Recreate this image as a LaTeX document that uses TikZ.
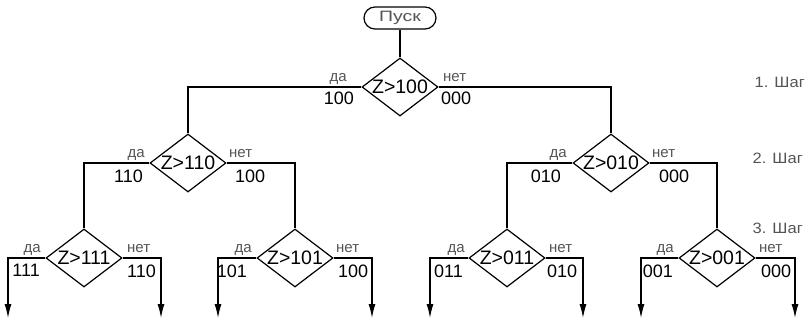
\documentclass[tikz,border=0pt]{standalone}
\usepackage{fontspec}
\setmainfont{Liberation Sans}
\newfontfamily\widefont[FakeStretch=1.3]{Liberation Sans}
\newfontfamily\stepfont[FakeStretch=1.1]{Liberation Sans}
\usetikzlibrary{shapes.geometric,arrows.meta,calc}
\definecolor{lblgray}{gray}{0.33}
\begin{document}
\begin{tikzpicture}[x=1pt,y=-1pt,line width=1.2pt,
  dia/.style={diamond,draw,inner sep=0pt,minimum width=76pt,minimum height=58pt,font=\fontsize{19.5}{19.5}\selectfont},
  startbox/.style={rectangle,draw,rounded corners=11pt,minimum width=72pt,minimum height=22pt,inner sep=0pt,font=\widefont\fontsize{15}{15}\selectfont,text=lblgray},
  yes/.style={font=\fontsize{15}{15}\selectfont,text=lblgray,inner sep=0pt,anchor=base east},
  no/.style={font=\fontsize{15}{15}\selectfont,text=lblgray,inner sep=0pt,anchor=base west},
  numl/.style={font=\fontsize{18}{18}\selectfont,inner sep=0pt,anchor=north east},
  numr/.style={font=\fontsize{18}{18}\selectfont,inner sep=0pt,anchor=north west},
  steplbl/.style={font=\stepfont\fontsize{15}{15}\selectfont,text=lblgray,anchor=west,inner sep=0pt},
  arr/.style={-{Latex[length=14pt,width=7pt]}}
]
\useasboundingbox (0,0) rectangle (810,321);

% nodes
\node[startbox] (start) at (400,18) {Пуск};
\node[dia] (d1) at (400,87) {\makebox[0pt]{Z>100}};
\node[dia] (d2l) at (188,163) {\makebox[0pt]{Z>110}};
\node[dia] (d2r) at (611,163) {\makebox[0pt]{Z>010}};
\node[dia] (d3a) at (84,258) {\makebox[0pt]{Z>111}};
\node[dia] (d3b) at (295,258) {\makebox[0pt]{Z>101}};
\node[dia] (d3c) at (507,258) {\makebox[0pt]{Z>011}};
\node[dia] (d3d) at (717,258) {\makebox[0pt]{Z>001}};

% end points
\coordinate (e1) at (8,318);
\coordinate (e2) at (161,318);
\coordinate (e3) at (218,318);
\coordinate (e4) at (372,318);
\coordinate (e5) at (430,318);
\coordinate (e6) at (583,318);
\coordinate (e7) at (641,318);
\coordinate (e8) at (795,318);

% connectors
\draw (start) -- (d1);
\draw (d1.west) -| (d2l.north);
\draw (d1.east) -| (d2r.north);
\draw (d2l.west) -| (d3a.north);
\draw (d2l.east) -| (d3b.north);
\draw (d2r.west) -| (d3c.north);
\draw (d2r.east) -| (d3d.north);
\draw[arr] (d3a.west) -| (e1);
\draw[arr] (d3a.east) -| (e2);
\draw[arr] (d3b.west) -| (e3);
\draw[arr] (d3b.east) -| (e4);
\draw[arr] (d3c.west) -| (e5);
\draw[arr] (d3c.east) -| (e6);
\draw[arr] (d3d.west) -| (e7);
\draw[arr] (d3d.east) -| (e8);

% labels root
\node[yes] (y1) at ($(d1.west)+(-14,-6)$) {да};
\node[numl] (n1l) at ($(d1.west)+(-7,4)$) {100};
\node[no] (o1) at ($(d1.east)+(4,-6)$) {нет};
\node[numr] (n1r) at ($(d1.east)+(2,4)$) {000};
% level 2
\node[yes] (y2l) at ($(d2l.west)+(-4,-6)$) {да};
\node[numl] (n2ll) at ($(d2l.west)+(-6,6)$) {110};
\node[no] (o2l) at ($(d2l.east)+(2,-6)$) {нет};
\node[numr] (n2lr) at ($(d2l.east)+(8,6)$) {100};
\node[yes] (y2r) at ($(d2r.west)+(-5,-6)$) {да};
\node[numl] (n2rl) at ($(d2r.west)+(-11,6)$) {010};
\node[no] (o2r) at ($(d2r.east)+(2,-6)$) {нет};
\node[numr] (n2rr) at ($(d2r.east)+(9,6)$) {000};
% level 3
\node[yes] (y3a) at ($(d3a.west)+(-4,-6)$) {да};
\node[numl] (n3al) at ($(d3a.west)+(-5,6)$) {111};
\node[no] (o3a) at ($(d3a.east)+(4,-6)$) {нет};
\node[numr] (n3ar) at ($(d3a.east)+(4,6)$) {110};
\node[yes] (y3b) at ($(d3b.west)+(-4,-6)$) {да};
\node[numl] (n3bl) at ($(d3b.west)+(-9,6)$) {101};
\node[no] (o3b) at ($(d3b.east)+(2,-6)$) {нет};
\node[numr] (n3br) at ($(d3b.east)+(4,6)$) {100};
\node[yes] (y3c) at ($(d3c.west)+(-3,-6)$) {да};
\node[numl] (n3cl) at ($(d3c.west)+(-5,6)$) {011};
\node[no] (o3c) at ($(d3c.east)+(3,-6)$) {нет};
\node[numr] (n3cr) at ($(d3c.east)+(1,6)$) {010};
\node[yes] (y3d) at ($(d3d.west)+(-4,-6)$) {да};
\node[numl] (n3dl) at ($(d3d.west)+(-5,6)$) {001};
\node[no] (o3d) at ($(d3d.east)+(3,-6)$) {нет};
\node[numr] (n3dr) at ($(d3d.east)+(5,6)$) {000};

% steps
\node[steplbl] (s1) at (754,82) {1. Шаг};
\node[steplbl] (s2) at (752,158) {2. Шаг};
\node[steplbl] (s3) at (752,228) {3. Шаг};
\end{tikzpicture}
\end{document}
